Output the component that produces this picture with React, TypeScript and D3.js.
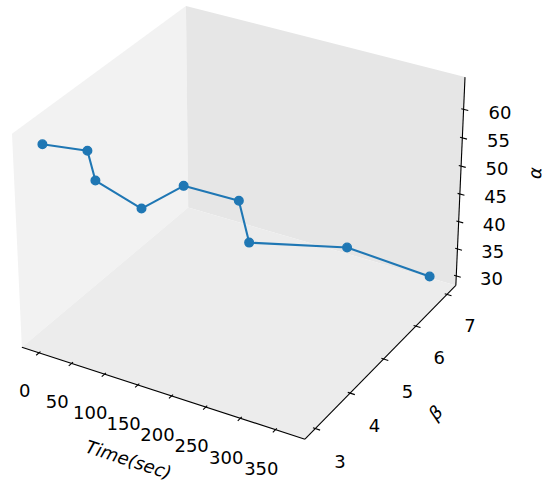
import React from "react";
import * as d3 from "d3";

// data
const time = [0, 45, 55, 100, 140, 190, 200, 300, 365];
const beta = [3.0, 3.36, 3.37, 3.76, 4.17, 4.75, 4.85, 5.74, 7.0];
const alpha = [63.2, 61.7, 56.9, 51.5, 54.6, 50.6, 43.0, 40.7, 30.6];

const timeTicks = [0, 50, 100, 150, 200, 250, 300, 350];
const betaTicks = [3, 4, 5, 6, 7];
const alphaTicks = [30, 35, 40, 45, 50, 55, 60];

const W = 545;
const H = 482;
const BLUE = "#1f77b4";
const FONT = "DejaVu Sans, sans-serif";
const FS = 18;

// camera, same as matplotlib's default 3d view
const ELEV = 30;
const AZIM = -60;
const DIST = 10;
const SCALE = 2838.6;
const CX = 242.7;
const CY = 212.6;

type V3 = [number, number, number];
const dot = (p: V3, q: V3) => p[0] * q[0] + p[1] * q[1] + p[2] * q[2];
const cross = (p: V3, q: V3): V3 => [
  p[1] * q[2] - p[2] * q[1],
  p[2] * q[0] - p[0] * q[2],
  p[0] * q[1] - p[1] * q[0],
];
const unit = (p: V3): V3 => {
  const l = Math.hypot(p[0], p[1], p[2]);
  return [p[0] / l, p[1] / l, p[2] / l];
};

const kb = 1.8294640721620434 / Math.hypot(4, 4, 3);
const box: V3 = [4 * kb, 4 * kb, 3 * kb];
const er = (ELEV * Math.PI) / 180;
const ar = (AZIM * Math.PI) / 180;
const w: V3 = [Math.cos(er) * Math.cos(ar), Math.cos(er) * Math.sin(ar), Math.sin(er)];
const eye: V3 = [box[0] / 2 + DIST * w[0], box[1] / 2 + DIST * w[1], box[2] / 2 + DIST * w[2]];
const u = unit(cross([0, 0, 1], w));
const v = cross(w, u);

// a, b, c are 0..1 along the pane box
function project(a: number, b: number, c: number): [number, number] {
  const d: V3 = [a * box[0] - eye[0], b * box[1] - eye[1], c * box[2] - eye[2]];
  const z = -dot(w, d);
  return [CX + (SCALE * dot(u, d)) / z, CY - (SCALE * dot(v, d)) / z];
}

// view limits get a 5% margin, panes reach 1/48 further
function paneDomain(vals: number[]): [number, number] {
  const [lo, hi] = d3.extent(vals) as [number, number];
  const m = 0.05 * (hi - lo);
  const l = hi - lo + 2 * m;
  return [lo - m - l / 48, hi + m + l / 48];
}

const sx = d3.scaleLinear().domain(paneDomain(time)).range([0, 1]);
const sy = d3.scaleLinear().domain(paneDomain(beta)).range([0, 1]);
const sz = d3.scaleLinear().domain(paneDomain(alpha)).range([0, 1]);

const DELTA = 1 / 12.5;
const TICK_OUT = 0.2 * DELTA;
const TICK_IN = 0.1 * DELTA;
const LAB = 1.05 * DELTA;
const AXLAB = 2.28 * DELTA;
const LAB_DY = 14;

const poly = (pts: V3[]) => pts.map((p) => project(...p).join(",")).join(" ");

function angle(p: V3, q: V3) {
  const [x1, y1] = project(...p);
  const [x2, y2] = project(...q);
  let t = (Math.atan2(y2 - y1, x2 - x1) * 180) / Math.PI;
  if (t > 90) t -= 180;
  if (t < -90) t += 180;
  return t;
}

function AxisLabel({ pos, rot, text, dy = 0 }: { pos: V3; rot: number; text: string; dy?: number }) {
  const [x, y] = project(...pos);
  return (
    <text
      x={x}
      y={y}
      dy={dy}
      transform={`rotate(${rot},${x},${y})`}
      textAnchor="middle"
      dominantBaseline="central"
      fontSize={FS}
      fontStyle="italic"
      fontFamily={FONT}
    >
      {text}
    </text>
  );
}

export default function App() {
  const pt = (i: number) => project(sx(time[i]), sy(beta[i]), sz(alpha[i]));
  const line = d3.line<number>()
    .x((i) => pt(i)[0])
    .y((i) => pt(i)[1]);
  const idx = d3.range(time.length);

  const xTicks = timeTicks.map((t) => {
    const a = sx(t);
    return { t, p1: project(a, TICK_IN, 0), p2: project(a, -TICK_OUT, 0), l: project(a, -LAB, -LAB) };
  });
  const yTicks = betaTicks.map((t) => {
    const b = sy(t);
    return { t, p1: project(1 - TICK_IN, b, 0), p2: project(1 + TICK_OUT, b, 0), l: project(1 + LAB, b, -LAB) };
  });
  const zTicks = alphaTicks.map((t) => {
    const c = sz(t);
    return { t, p1: project(1 - TICK_IN, 1, c), p2: project(1 + TICK_OUT, 1, c), l: project(1 + LAB, 1 + LAB, c) };
  });

  const axisLines: [V3, V3][] = [
    [[0, 0, 0], [1, 0, 0]],
    [[1, 0, 0], [1, 1, 0]],
    [[1, 1, 0], [1, 1, 1]],
  ];

  return (
    <svg width={W} height={H} style={{ position: "absolute", left: 0, top: 0, background: "#fff" }}>
      {/* panes */}
      <polygon points={poly([[0, 0, 0], [0, 1, 0], [0, 1, 1], [0, 0, 1]])} fill="#f2f2f2" />
      <polygon points={poly([[0, 1, 0], [1, 1, 0], [1, 1, 1], [0, 1, 1]])} fill="#e6e6e6" />
      <polygon points={poly([[0, 0, 0], [1, 0, 0], [1, 1, 0], [0, 1, 0]])} fill="#ececec" />

      {axisLines.map(([p, q], i) => {
        const [x1, y1] = project(...p);
        const [x2, y2] = project(...q);
        return <line key={i} x1={x1} y1={y1} x2={x2} y2={y2} stroke="#000" strokeWidth={1.1} />;
      })}

      {[...xTicks, ...yTicks, ...zTicks].map((d, i) => (
        <g key={i}>
          <line x1={d.p1[0]} y1={d.p1[1]} x2={d.p2[0]} y2={d.p2[1]} stroke="#000" strokeWidth={1.1} />
          <text x={d.l[0]} y={d.l[1] + LAB_DY} textAnchor="middle" fontSize={FS} fontFamily={FONT}>
            {d.t}
          </text>
        </g>
      ))}

      <AxisLabel pos={[0.5, -AXLAB, -AXLAB]} rot={angle([0, 0, 0], [1, 0, 0])} text="Time(sec)" />
      <AxisLabel pos={[1 + AXLAB, 0.5, -AXLAB]} rot={angle([1, 0, 0], [1, 1, 0])} text="β" />
      <AxisLabel pos={[1 + AXLAB, 1 + AXLAB, 0.5]} rot={angle([1, 1, 0], [1, 1, 1])} text="α" dy={-3} />

      <path d={line(idx) ?? ""} fill="none" stroke={BLUE} strokeWidth={2.08} strokeLinejoin="round" />
      {idx.map((i) => {
        const [x, y] = pt(i);
        return <circle key={i} cx={x} cy={y} r={4.3} fill={BLUE} stroke={BLUE} strokeWidth={1.4} />;
      })}
    </svg>
  );
}
